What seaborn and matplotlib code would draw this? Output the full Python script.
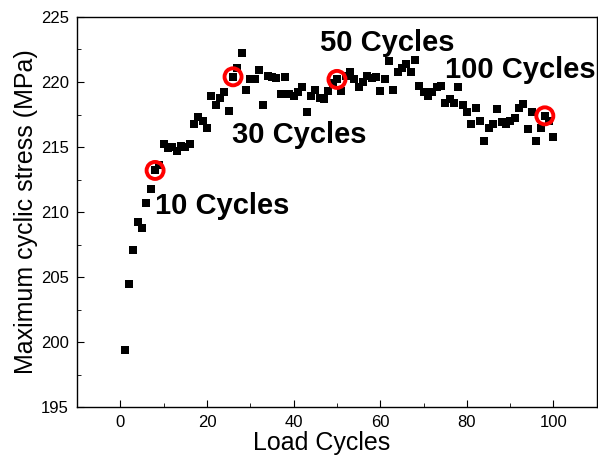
import matplotlib.pyplot as plt
import pandas as pd
import seaborn as sns

# maximum cyclic stress per load cycle
cycles = list(range(1, 101))
stress = [199.4, 204.5, 207.1, 209.2, 208.8, 210.7, 211.8, 213.2, 213.6, 215.2,
          214.9, 215.0, 214.7, 215.1, 215.0, 215.2, 216.8, 217.3, 217.0, 216.5,
          218.9, 218.2, 218.8, 219.2, 217.8, 220.4, 221.1, 222.2, 219.4, 220.2,
          220.2, 220.9, 218.2, 220.5, 220.4, 220.3, 219.1, 220.4, 219.1, 218.9,
          219.2, 219.6, 217.7, 218.9, 219.4, 218.8, 218.7, 219.3, 219.9, 220.2,
          219.3, 220.5, 220.8, 220.2, 219.6, 220.0, 220.5, 220.3, 220.4, 219.3,
          220.2, 221.6, 219.4, 220.8, 221.1, 221.4, 220.8, 221.7, 219.7, 219.2,
          218.9, 219.2, 219.6, 219.7, 218.4, 218.7, 218.4, 219.6, 218.2, 217.7,
          216.8, 218.0, 217.0, 215.5, 216.5, 216.8, 217.9, 216.9, 216.8, 217.0,
          217.2, 218.0, 218.3, 216.4, 217.7, 215.5, 216.5, 217.4, 217.0, 215.8]

# highlighted points and their labels
mark_cycles = [8, 26, 50, 98]
labels = ['10 Cycles', '30 Cycles', '50 Cycles', '100 Cycles']
label_x = [8.0, 25.8, 46.1, 75.0]
label_y = [210.5, 215.9, 223.0, 220.9]

df = pd.DataFrame({'cycle': cycles, 'stress': stress})
marks = df[df['cycle'].isin(mark_cycles)]

sns.set_style('ticks')
plt.rcParams['font.family'] = ['Liberation Sans', 'DejaVu Sans']
for k in ['text.color', 'axes.labelcolor', 'xtick.color', 'ytick.color']:
    plt.rcParams[k] = 'black'

fig = plt.figure(figsize=(5.98, 4.59), dpi=100)
ax = fig.add_axes([0.129, 0.113, 0.869, 0.85])

sns.scatterplot(data=df, x='cycle', y='stress', marker='s', s=36,
                color='black', edgecolor='black', linewidth=0, ax=ax, zorder=3)
sns.scatterplot(data=marks, x='cycle', y='stress', marker='o', s=150,
                facecolors='none', edgecolor='red', linewidth=2.8, ax=ax, zorder=4)

for t, lx, ly in zip(labels, label_x, label_y):
    ax.text(lx, ly, t, fontsize=21, fontweight='bold', va='center', ha='left',
            clip_on=True)

ax.set_xlim(-10, 110)
ax.set_ylim(195, 225)
ax.set_xticks(range(0, 101, 20))
ax.set_xticks(range(10, 101, 20), minor=True)
ax.set_yticks(range(195, 226, 5))
ax.set_yticks([197.5 + 5 * i for i in range(6)], minor=True)
ax.tick_params(which='both', direction='in', top=False, right=False,
               labelsize=12, color='black', pad=6)
ax.tick_params(axis='x', which='both', pad=6)
ax.tick_params(which='major', length=5)
ax.tick_params(which='minor', length=3)
for s in ax.spines.values():
    s.set_linewidth(1.0)
    s.set_color('black')

ax.set_xlabel('Load Cycles', fontsize=18)
ax.xaxis.set_label_coords(0.47, -0.062)
ax.set_ylabel('Maximum cyclic stress (MPa)', fontsize=18, labelpad=2)

fig.savefig('out.png', dpi=100)
